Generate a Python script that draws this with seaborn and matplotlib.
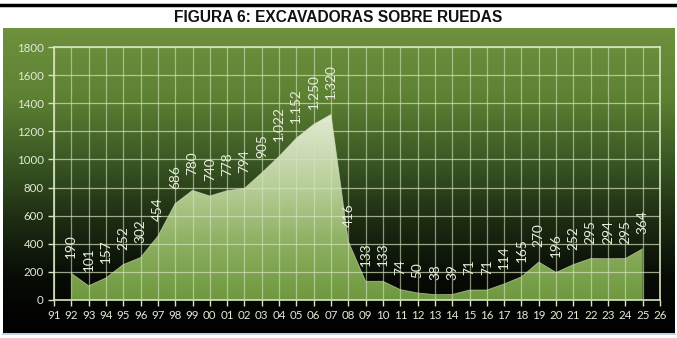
import numpy as np
import pandas as pd
import matplotlib
matplotlib.use("Agg")
import matplotlib.pyplot as plt
import seaborn as sns
from matplotlib.colors import LinearSegmentedColormap

# ---- data ----
tick_labels = ["91", "92", "93", "94", "95", "96", "97", "98", "99", "00", "01", "02",
               "03", "04", "05", "06", "07", "08", "09", "10", "11", "12", "13", "14",
               "15", "16", "17", "18", "19", "20", "21", "22", "23", "24", "25", "26"]
years = ["92", "93", "94", "95", "96", "97", "98", "99", "00", "01", "02", "03",
         "04", "05", "06", "07", "08", "09", "10", "11", "12", "13", "14", "15",
         "16", "17", "18", "19", "20", "21", "22", "23", "24", "25"]
units = [190, 101, 157, 252, 302, 454, 686, 780, 740, 778, 794, 905,
         1022, 1152, 1250, 1320, 416, 133, 133, 74, 50, 38, 39, 71,
         71, 114, 165, 270, 196, 252, 295, 294, 295, 364]
y_ticks = [0, 200, 400, 600, 800, 1000, 1200, 1400, 1600, 1800]

df = pd.DataFrame({"year": years, "units": units})
df["pos"] = [tick_labels.index(y) for y in df["year"]]

W, H = 677, 338
fig = plt.figure(figsize=(W / 100, H / 100), dpi=100)
fig.patch.set_facecolor("white")

def fr(x0, y0, x1, y1):
    return [x0 / W, 1 - y1 / H, (x1 - x0) / W, (y1 - y0) / H]

# top black rule
fig.add_artist(plt.Line2D([0, 1], [1 - 5 / H, 1 - 5 / H], color="black", lw=2.5))

# title
fig.text(0.5, 1 - 17.5 / H, "FIGURA 6: EXCAVADORAS SOBRE RUEDAS",
         ha="center", va="center", fontsize=11.2, fontweight="bold",
         family=["Liberation Sans Narrow", "Liberation Sans"], color="#111111")

# background panel gradient
bg = fig.add_axes(fr(3, 28, 675, 333))
bg_cmap = LinearSegmentedColormap.from_list(
    "bg", [(0.0, "#6f913e"), (0.22, "#5e8233"), (0.42, "#3d5a25"),
           (0.62, "#1e2e13"), (0.82, "#070b05"), (1.0, "#000000")])
grad = np.linspace(0, 1, 256).reshape(-1, 1)
bg.imshow(grad, aspect="auto", cmap=bg_cmap, extent=[0, 1, 0, 1], origin="upper")
bg.set_xlim(0, 1); bg.set_ylim(0, 1)
bg.axis("off")
fig.add_artist(plt.Line2D([3 / W, 675 / W], [1 - 333.5 / H, 1 - 333.5 / H],
                          color="#b9c8d8", lw=1.2))

# main axes
ax = fig.add_axes(fr(54, 47, 660, 300))
ax.set_facecolor("none")

grid_c = "#d6e4c0"

# area with vertical gradient
poly = ax.fill_between(df["pos"], df["units"], 0, color="none", lw=0, zorder=2)
area_cmap = LinearSegmentedColormap.from_list(
    "area", [(0.0, "#6e983f"), (0.3, "#8caf5f"), (0.6, "#b6cd96"), (1.0, "#e2ebd2")])
g = np.linspace(1, 0, 256).reshape(-1, 1)
img = ax.imshow(g, aspect="auto", cmap=area_cmap,
                extent=[df["pos"].min(), df["pos"].max(), 0, max(units)],
                origin="upper", zorder=2)
img.set_clip_path(poly.get_paths()[0], transform=ax.transData)
sns.lineplot(data=df, x="pos", y="units", ax=ax, color="#dfe8cf", lw=0.6,
             alpha=0.6, zorder=3)

ax.set_xlim(0, len(tick_labels) - 1)
ax.set_ylim(0, 1800)
ax.set_xlabel("")
ax.set_ylabel("")
ax.set_yticks(y_ticks)
ax.set_xticks(range(len(tick_labels)))
ax.set_xticklabels(tick_labels)
ax.grid(False)
for s in ax.spines.values():
    s.set_color(grid_c)
    s.set_linewidth(1.2)
ax.tick_params(axis="both", colors=grid_c, labelcolor="#e4ead8",
               labelsize=8.3, length=4, width=1)
for lab in ax.get_xticklabels() + ax.get_yticklabels():
    lab.set_family("Lato")

# grid lines drawn over the area (as in reference)
for xp in range(len(tick_labels)):
    ax.axvline(xp, color=grid_c, lw=0.9, alpha=0.6, zorder=4)
for yp in y_ticks:
    ax.axhline(yp, color=grid_c, lw=0.9, alpha=0.7, zorder=4)

def fmt(v):
    return f"{v:,}".replace(",", ".")

for xp, v in zip(df["pos"], df["units"]):
    ax.annotate(fmt(v), (xp, v), xytext=(0, 15), textcoords="offset pixels",
                rotation=90, ha="center", va="bottom", fontsize=9.8,
                family="Lato", color="#e8eedd", zorder=5)

fig.savefig("out.png", dpi=100, facecolor=fig.get_facecolor())
